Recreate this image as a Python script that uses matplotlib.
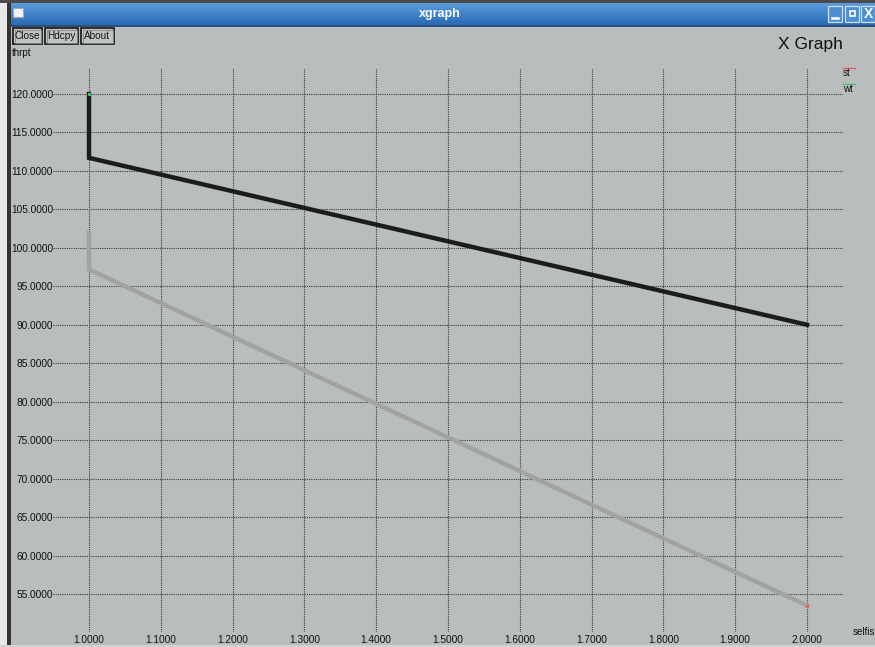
import matplotlib
matplotlib.use("Agg")
import matplotlib.pyplot as plt
from matplotlib.patches import Rectangle
import numpy as np

# Series data (selfishness vs throughput)
st_x = [1.0, 1.0, 2.0]
st_y = [120.0, 111.7, 90.0]
wt_x = [1.0, 1.0, 2.0]
wt_y = [102.0, 97.2, 53.5]

x_ticks = [1.0, 1.1, 1.2, 1.3, 1.4, 1.5, 1.6, 1.7, 1.8, 1.9, 2.0]
y_ticks = [55, 60, 65, 70, 75, 80, 85, 90, 95, 100, 105, 110, 115, 120]

series_names = ["st", "wt"]
series_key_colors = ["#e06060", "#50c070"]

W, H = 875, 647
BG = "#b9bdbd"
FONT = "Liberation Sans"

fig = plt.figure(figsize=(W / 100, H / 100), dpi=100)
fig.patch.set_facecolor(BG)

# Overlay in pixel coordinates for window chrome
chrome = fig.add_axes([0, 0, 1, 1])
chrome.set_xlim(0, W)
chrome.set_ylim(H, 0)
chrome.axis("off")

# outside area and window frame
chrome.add_patch(Rectangle((0, 0), 7, H, color="#e8e8e8", lw=0))
chrome.add_patch(Rectangle((7, 0), 4, H, color="#333333", lw=0))
chrome.add_patch(Rectangle((0, 0), W, 3, color="#4a4a4a", lw=0))
chrome.add_patch(Rectangle((0, H - 2), W, 2, color="#d0d2d2", lw=0))

# title bar gradient
grad = np.linspace(0, 1, 64).reshape(-1, 1)
top = np.array([0x5a, 0x9c, 0xdc]) / 255
bot = np.array([0x2a, 0x6a, 0xb4]) / 255
img = top + (bot - top) * grad[..., None]
img = np.repeat(img, 2, axis=1)
chrome.imshow(img, extent=(11, W, 25, 3), aspect="auto", zorder=1)
chrome.add_patch(Rectangle((11, 25), W - 11, 1.5, color="#2a4f7a", lw=0, zorder=2))
chrome.text(440, 14, "xgraph", color="white", fontsize=9, fontweight="bold",
            family=FONT, ha="center", va="center", zorder=3)
# window menu icon
chrome.add_patch(Rectangle((13, 8), 10, 9, facecolor="#f2f2f2", edgecolor="#9ab",
                           lw=0.8, zorder=3))
# window control buttons
for bx, sym in [(828, "min"), (845, "max"), (861, "close")]:
    chrome.add_patch(Rectangle((bx, 6), 14, 16, facecolor="#4d8ed4",
                               edgecolor="#cfe0f2", lw=0.9, zorder=3))
    if sym == "min":
        chrome.plot([bx + 4, bx + 10], [18, 18], color="white", lw=1.8, zorder=4)
    elif sym == "max":
        chrome.add_patch(Rectangle((bx + 4.5, 11), 5, 5, facecolor="none",
                                   edgecolor="white", lw=1.2, zorder=4))
    else:
        chrome.text(bx + 7, 14.5, "X", color="white", fontsize=10, fontweight="bold",
                    family=FONT, ha="center", va="center", zorder=4)

# xgraph buttons
for (bx, bw, label) in [(13, 29, "Close"), (45, 33, "Hdcpy"), (81, 33, "About")]:
    chrome.add_patch(Rectangle((bx, 28), bw, 16, facecolor="#c2c4c4",
                               edgecolor="#222222", lw=1.3, zorder=3))
    chrome.add_patch(Rectangle((bx + 1.5, 29.5), bw - 3, 13, facecolor="none",
                               edgecolor="#8a8a8a", lw=0.6, zorder=3))
    chrome.text(bx + bw / 2, 36.3, label, fontsize=7.2, family=FONT,
                ha="center", va="center", color="#111111", zorder=4)

chrome.text(810, 44, "X Graph", fontsize=12.5, family=FONT, ha="center",
            va="center", color="#111111")
chrome.text(12, 53, "thrpt", fontsize=7, family=FONT, ha="left",
            va="center", color="#111111")
chrome.text(853, 632, "selfis", fontsize=7, family=FONT, ha="left",
            va="center", color="#111111")

# legend keys
for i, (name, col) in enumerate(zip(series_names, series_key_colors)):
    ly = 68 + i * 16
    chrome.plot([843, 855], [ly, ly], color=col, lw=1.0)
    chrome.text(843, ly + 5, name, fontsize=7, family=FONT, ha="left",
                va="center", color="#111111")

# Data axes placed over the grid area
gx0, gx1, gy0, gy1 = 53, 843, 68, 632
ax = fig.add_axes([gx0 / W, 1 - gy1 / H, (gx1 - gx0) / W, (gy1 - gy0) / H])
ax.set_facecolor("none")
ax.patch.set_alpha(0)
px_per_x = (807 - 89) / 1.0
px_per_y = (594 - 94) / 65.0
ax.set_xlim(1.0 + (gx0 - 89) / px_per_x, 1.0 + (gx1 - 89) / px_per_x)
ax.set_ylim(55 - (gy1 - 594) / px_per_y, 120 + (94 - gy0) / px_per_y)
for s in ax.spines.values():
    s.set_visible(False)

ax.set_xticks(x_ticks)
ax.set_yticks(y_ticks)
ax.set_xticklabels([f"{v:.4f}" for v in x_ticks], family=FONT, fontsize=7.3,
                   color="#111111")
ax.set_yticklabels([f"{v:.4f}" for v in y_ticks], family=FONT, fontsize=7.3,
                   color="#111111")
ax.tick_params(axis="both", length=0)
ax.tick_params(axis="x", pad=2.5)
ax.tick_params(axis="y", pad=0)
ax.grid(True, color="#3a3a3a", linestyle=(0, (1, 1)), linewidth=0.8)
ax.set_axisbelow(True)

ax.plot(st_x, st_y, color="#1c1c1c", lw=3.2, solid_joinstyle="miter", zorder=3)
ax.plot(wt_x, wt_y, color="#a2a2a2", lw=3.2, solid_joinstyle="miter", zorder=3)
ax.plot([st_x[0]], [st_y[0]], "o", ms=1.5, color="#50c070", zorder=4)
ax.plot([wt_x[-1]], [wt_y[-1]], "o", ms=1.5, color="#e06060", zorder=4)

fig.savefig("out.png", dpi=100, facecolor=fig.get_facecolor())
